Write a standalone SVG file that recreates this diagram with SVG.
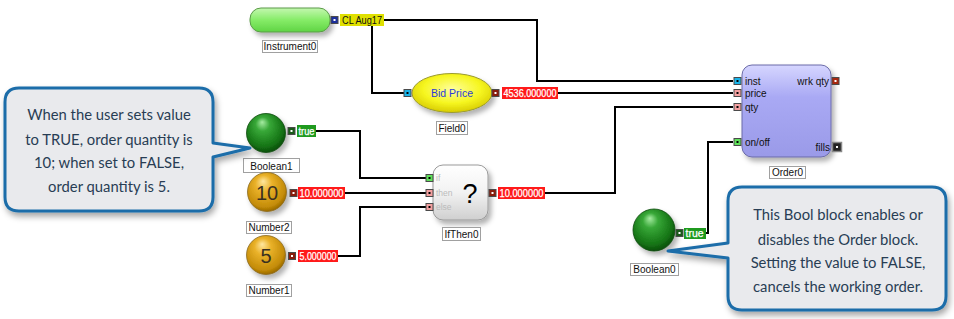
<svg xmlns="http://www.w3.org/2000/svg" width="954" height="319" viewBox="0 0 954 319">
<defs>
  <filter id="sh" x="-30%" y="-30%" width="170%" height="170%">
    <feDropShadow dx="3" dy="4" stdDeviation="2.5" flood-color="#000" flood-opacity="0.3"/>
  </filter>
  <filter id="csh" x="-10%" y="-10%" width="125%" height="130%">
    <feDropShadow dx="2" dy="4" stdDeviation="3" flood-color="#000" flood-opacity="0.35"/>
  </filter>
  <radialGradient id="gGreen" cx="0.45" cy="0.4" r="0.6" fx="0.4" fy="0.22">
    <stop offset="0" stop-color="#a6ecA2"/>
    <stop offset="0.3" stop-color="#38a838"/>
    <stop offset="0.8" stop-color="#157415"/>
    <stop offset="1" stop-color="#0b4f0b"/>
  </radialGradient>
  <radialGradient id="gGold" cx="0.45" cy="0.4" r="0.6" fx="0.4" fy="0.22">
    <stop offset="0" stop-color="#ffe7a0"/>
    <stop offset="0.35" stop-color="#eab22a"/>
    <stop offset="0.85" stop-color="#c48c08"/>
    <stop offset="1" stop-color="#9a6a00"/>
  </radialGradient>
  <linearGradient id="gInst" x1="0" y1="0" x2="0" y2="1">
    <stop offset="0" stop-color="#c4f7b0"/>
    <stop offset="0.5" stop-color="#86ec68"/>
    <stop offset="1" stop-color="#5fd444"/>
  </linearGradient>
  <radialGradient id="gYel" cx="0.5" cy="0.4" r="0.6">
    <stop offset="0" stop-color="#ffff9c"/>
    <stop offset="0.6" stop-color="#f6f620"/>
    <stop offset="1" stop-color="#d8cc00"/>
  </radialGradient>
  <linearGradient id="gIf" x1="0" y1="0" x2="0" y2="1">
    <stop offset="0" stop-color="#ffffff"/>
    <stop offset="0.5" stop-color="#f2f2f2"/>
    <stop offset="1" stop-color="#cfcfcf"/>
  </linearGradient>
  <linearGradient id="gOrd" x1="0" y1="0" x2="0" y2="1">
    <stop offset="0" stop-color="#d6d6ff"/>
    <stop offset="0.35" stop-color="#a9a9f4"/>
    <stop offset="1" stop-color="#9a9ae8"/>
  </linearGradient>
  <style>
    .wire{fill:none;stroke:#000;stroke-width:2}
    .lbl{fill:#fff;stroke:#a0a0a0;stroke-width:1}
    .lt{font-family:"Liberation Sans",Arial,sans-serif;font-size:10px;fill:#111;text-anchor:middle}
    .pt{font-family:"Liberation Sans",Arial,sans-serif;font-size:10px;fill:#111}
    .vt{font-family:"Liberation Sans",Arial,sans-serif;font-size:10px;fill:#fff;stroke:#fff;stroke-width:0.25}
    .port{stroke:#4a4a4a;stroke-width:1}
    .dot{fill:#fff}
    .co{fill:#e9eaed;stroke:#1b6da9;stroke-width:3;stroke-linejoin:round}
    .ct{font-family:Lato,"Open Sans",sans-serif;font-size:14.8px;fill:#283d54;text-anchor:middle}
  </style>
</defs>
<rect width="954" height="319" fill="#fff"/>

<g id="connectors">
  <path class="wire" d="M384,20 H537 V81 H733"/>
  <path class="wire" d="M372,20 V93 H404"/>
  <path class="wire" d="M558,93 H733"/>
  <path class="wire" d="M316,131 H360 V178 H426"/>
  <path class="wire" d="M345,193 H426"/>
  <path class="wire" d="M338,256 H360 V207 H426"/>
  <path class="wire" d="M545,193 H615 V107 H733"/>
  <path class="wire" d="M706,233 H708 V142 H733"/>
</g>

<g id="Instrument0">
  <rect x="250" y="8" width="80" height="24" rx="11" fill="url(#gInst)" stroke="#5a9a48" filter="url(#sh)"/>
  <rect class="port" x="331" y="16.5" width="7" height="7" fill="#1c2f9c"/>
  <rect class="dot" x="333.5" y="19" width="2" height="2"/>
  <rect x="340" y="14" width="44" height="12" fill="#e0e000"/>
  <text x="342" y="23.5" class="pt" textLength="40" lengthAdjust="spacingAndGlyphs">CL Aug17</text>
  <rect class="lbl" x="262.5" y="40.5" width="55" height="12"/>
  <text class="lt" x="290" y="50">Instrument0</text>
</g>

<g id="Field0">
  <ellipse cx="452" cy="93" rx="40" ry="19.5" fill="url(#gYel)" stroke="#9a9a30" filter="url(#sh)"/>
  <text x="452" y="97" font-family="Liberation Sans,Arial,sans-serif" font-size="10.5" fill="#2b3bd8" text-anchor="middle">Bid Price</text>
  <rect class="port" x="404" y="89.5" width="7" height="7" fill="#19b4ea"/>
  <rect x="406.5" y="92" width="2" height="2" fill="#000"/>
  <rect class="port" x="492" y="89.5" width="7" height="7" fill="#8a1c0c"/>
  <rect class="dot" x="494.5" y="92" width="2" height="2"/>
  <rect x="502" y="87" width="56" height="12" fill="#ff1a1a"/>
  <text class="vt" x="503.5" y="96.5" textLength="53" lengthAdjust="spacingAndGlyphs">4536.000000</text>
  <rect class="lbl" x="436.5" y="121.5" width="31" height="13"/>
  <text class="lt" x="452" y="131.5">Field0</text>
</g>

<g id="Order0">
  <rect x="742" y="65" width="89" height="92" rx="10" fill="url(#gOrd)" stroke="#6b6ba8" filter="url(#sh)"/>
  <rect class="port" x="734" y="77.5" width="7" height="7" fill="#19b4ea"/>
  <rect x="736.5" y="80" width="2" height="2" fill="#000"/>
  <rect class="port" x="734" y="89.5" width="7" height="7" fill="#f4a0a0"/>
  <rect x="736.5" y="92" width="2" height="2" fill="#000"/>
  <rect class="port" x="734" y="103.5" width="7" height="7" fill="#f4a0a0"/>
  <rect x="736.5" y="106" width="2" height="2" fill="#000"/>
  <rect class="port" x="734" y="138.5" width="7" height="7" fill="#5fe05a"/>
  <rect x="736.5" y="141" width="2" height="2" fill="#000"/>
  <text class="pt" x="745" y="84.5">inst</text>
  <text class="pt" x="745" y="97">price</text>
  <text class="pt" x="745" y="110.5">qty</text>
  <text class="pt" x="745" y="145.5">on/off</text>
  <text class="pt" x="829" y="84.5" text-anchor="end">wrk qty</text>
  <text class="pt" x="830" y="150.5" text-anchor="end">fills</text>
  <rect class="port" x="832" y="77.5" width="7" height="7" fill="#a82810"/>
  <rect class="dot" x="834.5" y="80" width="2" height="2"/>
  <rect x="832.5" y="142.5" width="9" height="9" fill="#222" stroke="#888" stroke-width="1.5"/>
  <rect class="dot" x="836" y="146" width="2" height="2"/>
  <rect class="lbl" x="769.5" y="166.5" width="36" height="12"/>
  <text class="lt" x="787.5" y="176">Order0</text>
</g>

<g id="Boolean1">
  <circle cx="266" cy="133" r="19.5" fill="url(#gGreen)" stroke="#0b4a0b" stroke-width="0.8" filter="url(#sh)"/>
  <rect class="port" x="288" y="127.5" width="7" height="7" fill="#1a5a1a"/>
  <rect class="dot" x="290.5" y="130" width="2" height="2"/>
  <rect x="297" y="125" width="19" height="12" fill="#1f9a1f"/>
  <text class="vt" x="298.5" y="134.5" textLength="16" lengthAdjust="spacingAndGlyphs">true</text>
  <rect class="lbl" x="243.5" y="158.5" width="56" height="14"/>
  <text class="lt" x="271.5" y="169.5" font-size="11">Boolean1</text>
</g>

<g id="Number2">
  <circle cx="267" cy="192" r="19.5" fill="url(#gGold)" stroke="#8a6a20" stroke-width="0.8" filter="url(#sh)"/>
  <text x="267" y="199.5" font-family="Liberation Sans,Arial,sans-serif" font-size="20" fill="#3a3020" text-anchor="middle">10</text>
  <rect class="port" x="290" y="189.5" width="7" height="7" fill="#8a1c0c"/>
  <rect class="dot" x="292.5" y="192" width="2" height="2"/>
  <rect x="298" y="187" width="47" height="12" fill="#ff1a1a"/>
  <text class="vt" x="299.5" y="196.5" textLength="44" lengthAdjust="spacingAndGlyphs">10.000000</text>
  <rect class="lbl" x="246.5" y="221.5" width="45" height="12"/>
  <text class="lt" x="269" y="231">Number2</text>
</g>

<g id="Number1">
  <circle cx="266" cy="255" r="19.5" fill="url(#gGold)" stroke="#8a6a20" stroke-width="0.8" filter="url(#sh)"/>
  <text x="266" y="262.5" font-family="Liberation Sans,Arial,sans-serif" font-size="20" fill="#3a3020" text-anchor="middle">5</text>
  <rect class="port" x="288.5" y="252.5" width="7" height="7" fill="#8a1c0c"/>
  <rect class="dot" x="291" y="255" width="2" height="2"/>
  <rect x="298" y="250" width="40" height="12" fill="#ff1a1a"/>
  <text class="vt" x="299.5" y="259.5" textLength="37" lengthAdjust="spacingAndGlyphs">5.000000</text>
  <rect class="lbl" x="246.5" y="284.5" width="45" height="12"/>
  <text class="lt" x="269" y="294">Number1</text>
</g>

<g id="IfThen0">
  <rect x="433" y="165" width="55" height="55" rx="10" fill="url(#gIf)" stroke="#9a9a9a" filter="url(#sh)"/>
  <text x="470" y="203" font-family="Liberation Sans,Arial,sans-serif" font-size="27" fill="#000" text-anchor="middle">?</text>
  <text x="436" y="181" font-family="Liberation Sans,Arial,sans-serif" font-size="8.5" fill="#bbb">if</text>
  <text x="436" y="196" font-family="Liberation Sans,Arial,sans-serif" font-size="8.5" fill="#bbb">then</text>
  <text x="436" y="210" font-family="Liberation Sans,Arial,sans-serif" font-size="8.5" fill="#bbb">else</text>
  <rect class="port" x="426" y="174.5" width="7" height="7" fill="#5fe05a"/>
  <rect x="428.5" y="177" width="2" height="2" fill="#000"/>
  <rect class="port" x="426" y="189.5" width="7" height="7" fill="#f4a0a0"/>
  <rect x="428.5" y="192" width="2" height="2" fill="#000"/>
  <rect class="port" x="426" y="203.5" width="7" height="7" fill="#f4a0a0"/>
  <rect x="428.5" y="206" width="2" height="2" fill="#000"/>
  <rect class="port" x="489" y="189.5" width="7" height="7" fill="#8a1c0c"/>
  <rect class="dot" x="491.5" y="192" width="2" height="2"/>
  <rect x="498" y="187" width="47" height="12" fill="#ff1a1a"/>
  <text class="vt" x="499.5" y="196.5" textLength="44" lengthAdjust="spacingAndGlyphs">10.000000</text>
  <rect class="lbl" x="442.5" y="227.5" width="38" height="13"/>
  <text class="lt" x="461.5" y="237.5">IfThen0</text>
</g>

<g id="Boolean0">
  <circle cx="654" cy="230" r="21" fill="url(#gGreen)" stroke="#0b4a0b" stroke-width="0.8" filter="url(#sh)"/>
  <rect class="port" x="676" y="229.5" width="7" height="7" fill="#1a5a1a"/>
  <rect class="dot" x="678.5" y="232" width="2" height="2"/>
  <rect x="684" y="228" width="22" height="11" fill="#1f9a1f"/>
  <text class="vt" x="685.5" y="237" textLength="18" lengthAdjust="spacingAndGlyphs">true</text>
  <rect class="lbl" x="630.5" y="263.5" width="48" height="12"/>
  <text class="lt" x="654.5" y="273">Boolean0</text>
</g>

<g id="callout-left">
  <path class="co" filter="url(#csh)" d="M19,88 H199 Q213,88 213,102 V143 L250,148 L213,157 V197 Q213,211 199,211 H19 Q5,211 5,197 V102 Q5,88 19,88 Z"/>
  <text class="ct" x="109" y="120">When the user sets value</text>
  <text class="ct" x="109" y="145">to TRUE, order quantity is</text>
  <text class="ct" x="109" y="168">10; when set to FALSE,</text>
  <text class="ct" x="109" y="192">order quantity is 5.</text>
</g>

<g id="callout-right">
  <path class="co" filter="url(#csh)" d="M742,187 H932 Q946,187 946,201 V296 Q946,310 932,310 H742 Q728,310 728,296 V258 L668,251 L728,243 V201 Q728,187 742,187 Z"/>
  <text class="ct" x="838" y="220">This Bool block enables or</text>
  <text class="ct" x="838" y="245">disables the Order block.</text>
  <text class="ct" x="838" y="268">Setting the value to FALSE,</text>
  <text class="ct" x="838" y="292">cancels the working order.</text>
</g>
</svg>
